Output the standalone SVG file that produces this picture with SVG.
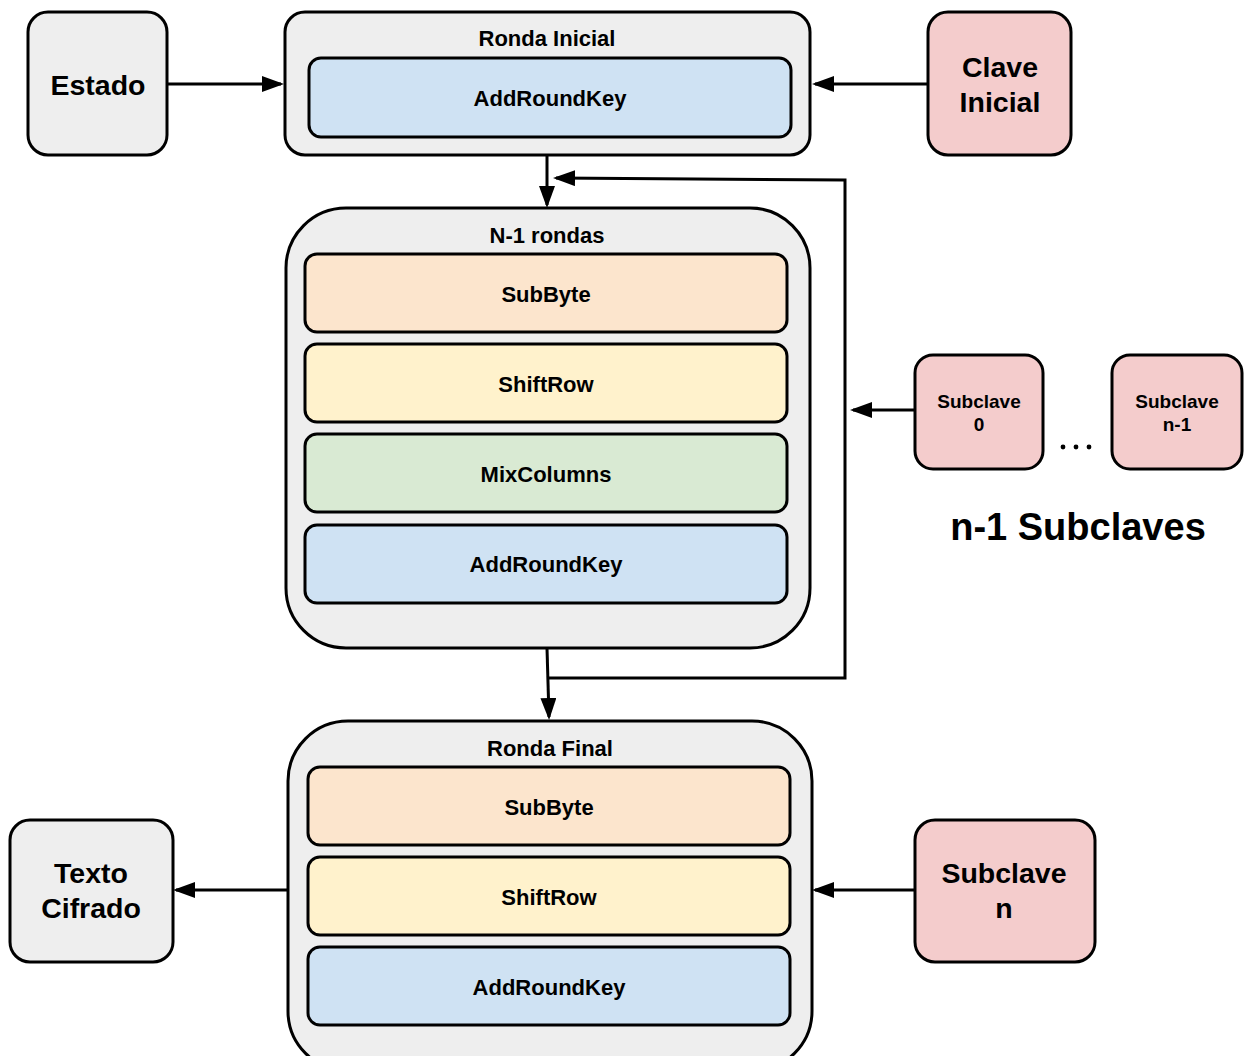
<svg xmlns="http://www.w3.org/2000/svg" width="1247" height="1056" viewBox="0 0 1247 1056">
  <defs>
    <style>
      .box { stroke: #000; stroke-width: 3; }
      .grey { fill: #eeeeee; }
      .key { fill: #f4cccc; }
      .blue { fill: #cfe2f3; }
      .orange { fill: #fce5cd; }
      .yellow { fill: #fff2cc; }
      .green { fill: #d9ead3; }
      text { font-family: "Liberation Sans", Arial, sans-serif; font-weight: bold; fill: #000; text-anchor: middle; }
      .t22 { font-size: 22px; }
      .t19 { font-size: 19px; }
      .t28 { font-size: 28.5px; }
      .t38 { font-size: 38px; }
      .wire { fill: none; stroke: #000; stroke-width: 3; }
    </style>
    <marker id="arrow" viewBox="0 0 22 16" refX="19" refY="8" markerWidth="22" markerHeight="16" markerUnits="userSpaceOnUse" orient="auto">
      <path d="M0,0 L22,8 L0,16 Z" fill="#000"/>
    </marker>
  </defs>

  <rect width="1247" height="1056" fill="#fff"/>

  <!-- connectors -->
  <g id="connectors">
    <line class="wire" x1="167" y1="84" x2="281" y2="84" marker-end="url(#arrow)"/>
    <line class="wire" x1="928" y1="84" x2="815" y2="84" marker-end="url(#arrow)"/>
    <line class="wire" x1="547" y1="155" x2="547" y2="205" marker-end="url(#arrow)"/>
    <polyline class="wire" points="548,678 845,678 845,180 556,178" marker-end="url(#arrow)"/>
    <line class="wire" x1="547" y1="648" x2="549" y2="717" marker-end="url(#arrow)"/>
    <line class="wire" x1="915" y1="410" x2="853" y2="410" marker-end="url(#arrow)"/>
    <line class="wire" x1="288" y1="890" x2="176" y2="890" marker-end="url(#arrow)"/>
    <line class="wire" x1="914" y1="890" x2="815" y2="890" marker-end="url(#arrow)"/>
  </g>

  <!-- input state -->
  <g id="estado">
    <rect class="box grey" x="28" y="12" width="139" height="143" rx="20"/>
    <text class="t28" x="98" y="95">Estado</text>
  </g>

  <!-- initial round -->
  <g id="ronda-inicial">
    <rect class="box grey" x="285" y="12" width="525" height="143" rx="20"/>
    <text class="t22" x="547" y="46">Ronda Inicial</text>
    <g id="ri-addroundkey">
      <rect class="box blue" x="309" y="58" width="482" height="79" rx="12"/>
      <text class="t22" x="550" y="106">AddRoundKey</text>
    </g>
  </g>

  <!-- initial key -->
  <g id="clave-inicial">
    <rect class="box key" x="928" y="12" width="143" height="143" rx="20"/>
    <text class="t28" x="1000" y="77">Clave</text>
    <text class="t28" x="1000" y="112">Inicial</text>
  </g>

  <!-- main rounds -->
  <g id="n1-rondas">
    <rect class="box grey" x="286" y="208" width="524" height="440" rx="60"/>
    <text class="t22" x="547" y="243">N-1 rondas</text>
    <g id="n1-subbyte">
      <rect class="box orange" x="305" y="254" width="482" height="78" rx="12"/>
      <text class="t22" x="546" y="302">SubByte</text>
    </g>
    <g id="n1-shiftrow">
      <rect class="box yellow" x="305" y="344" width="482" height="78" rx="12"/>
      <text class="t22" x="546" y="392">ShiftRow</text>
    </g>
    <g id="n1-mixcolumns">
      <rect class="box green" x="305" y="434" width="482" height="78" rx="12"/>
      <text class="t22" x="546" y="482">MixColumns</text>
    </g>
    <g id="n1-addroundkey">
      <rect class="box blue" x="305" y="525" width="482" height="78" rx="12"/>
      <text class="t22" x="546" y="572">AddRoundKey</text>
    </g>
  </g>

  <!-- round subkeys -->
  <g id="subclave-0">
    <rect class="box key" x="915" y="355" width="128" height="114" rx="18"/>
    <text class="t19" x="979" y="408">Subclave</text>
    <text class="t19" x="979" y="431">0</text>
  </g>
  <g id="subclave-n1">
    <rect class="box key" x="1112" y="355" width="130" height="114" rx="18"/>
    <text class="t19" x="1177" y="408">Subclave</text>
    <text class="t19" x="1177" y="431">n-1</text>
  </g>
  <g id="ellipsis">
    <circle cx="1063" cy="447" r="2.4" fill="#000"/>
    <circle cx="1076" cy="447" r="2.4" fill="#000"/>
    <circle cx="1089" cy="447" r="2.4" fill="#000"/>
  </g>
  <text class="t38" x="1078" y="540">n-1 Subclaves</text>

  <!-- final round -->
  <g id="ronda-final">
    <rect class="box grey" x="288" y="721" width="524" height="350" rx="60"/>
    <text class="t22" x="550" y="756">Ronda Final</text>
    <g id="rf-subbyte">
      <rect class="box orange" x="308" y="767" width="482" height="78" rx="12"/>
      <text class="t22" x="549" y="815">SubByte</text>
    </g>
    <g id="rf-shiftrow">
      <rect class="box yellow" x="308" y="857" width="482" height="78" rx="12"/>
      <text class="t22" x="549" y="905">ShiftRow</text>
    </g>
    <g id="rf-addroundkey">
      <rect class="box blue" x="308" y="947" width="482" height="78" rx="12"/>
      <text class="t22" x="549" y="995">AddRoundKey</text>
    </g>
  </g>

  <!-- ciphertext output -->
  <g id="texto-cifrado">
    <rect class="box grey" x="10" y="820" width="163" height="142" rx="20"/>
    <text class="t28" x="91" y="883">Texto</text>
    <text class="t28" x="91" y="918">Cifrado</text>
  </g>

  <!-- last subkey -->
  <g id="subclave-n">
    <rect class="box key" x="915" y="820" width="180" height="142" rx="20"/>
    <text class="t28" x="1004" y="883">Subclave</text>
    <text class="t28" x="1004" y="918">n</text>
  </g>
</svg>
